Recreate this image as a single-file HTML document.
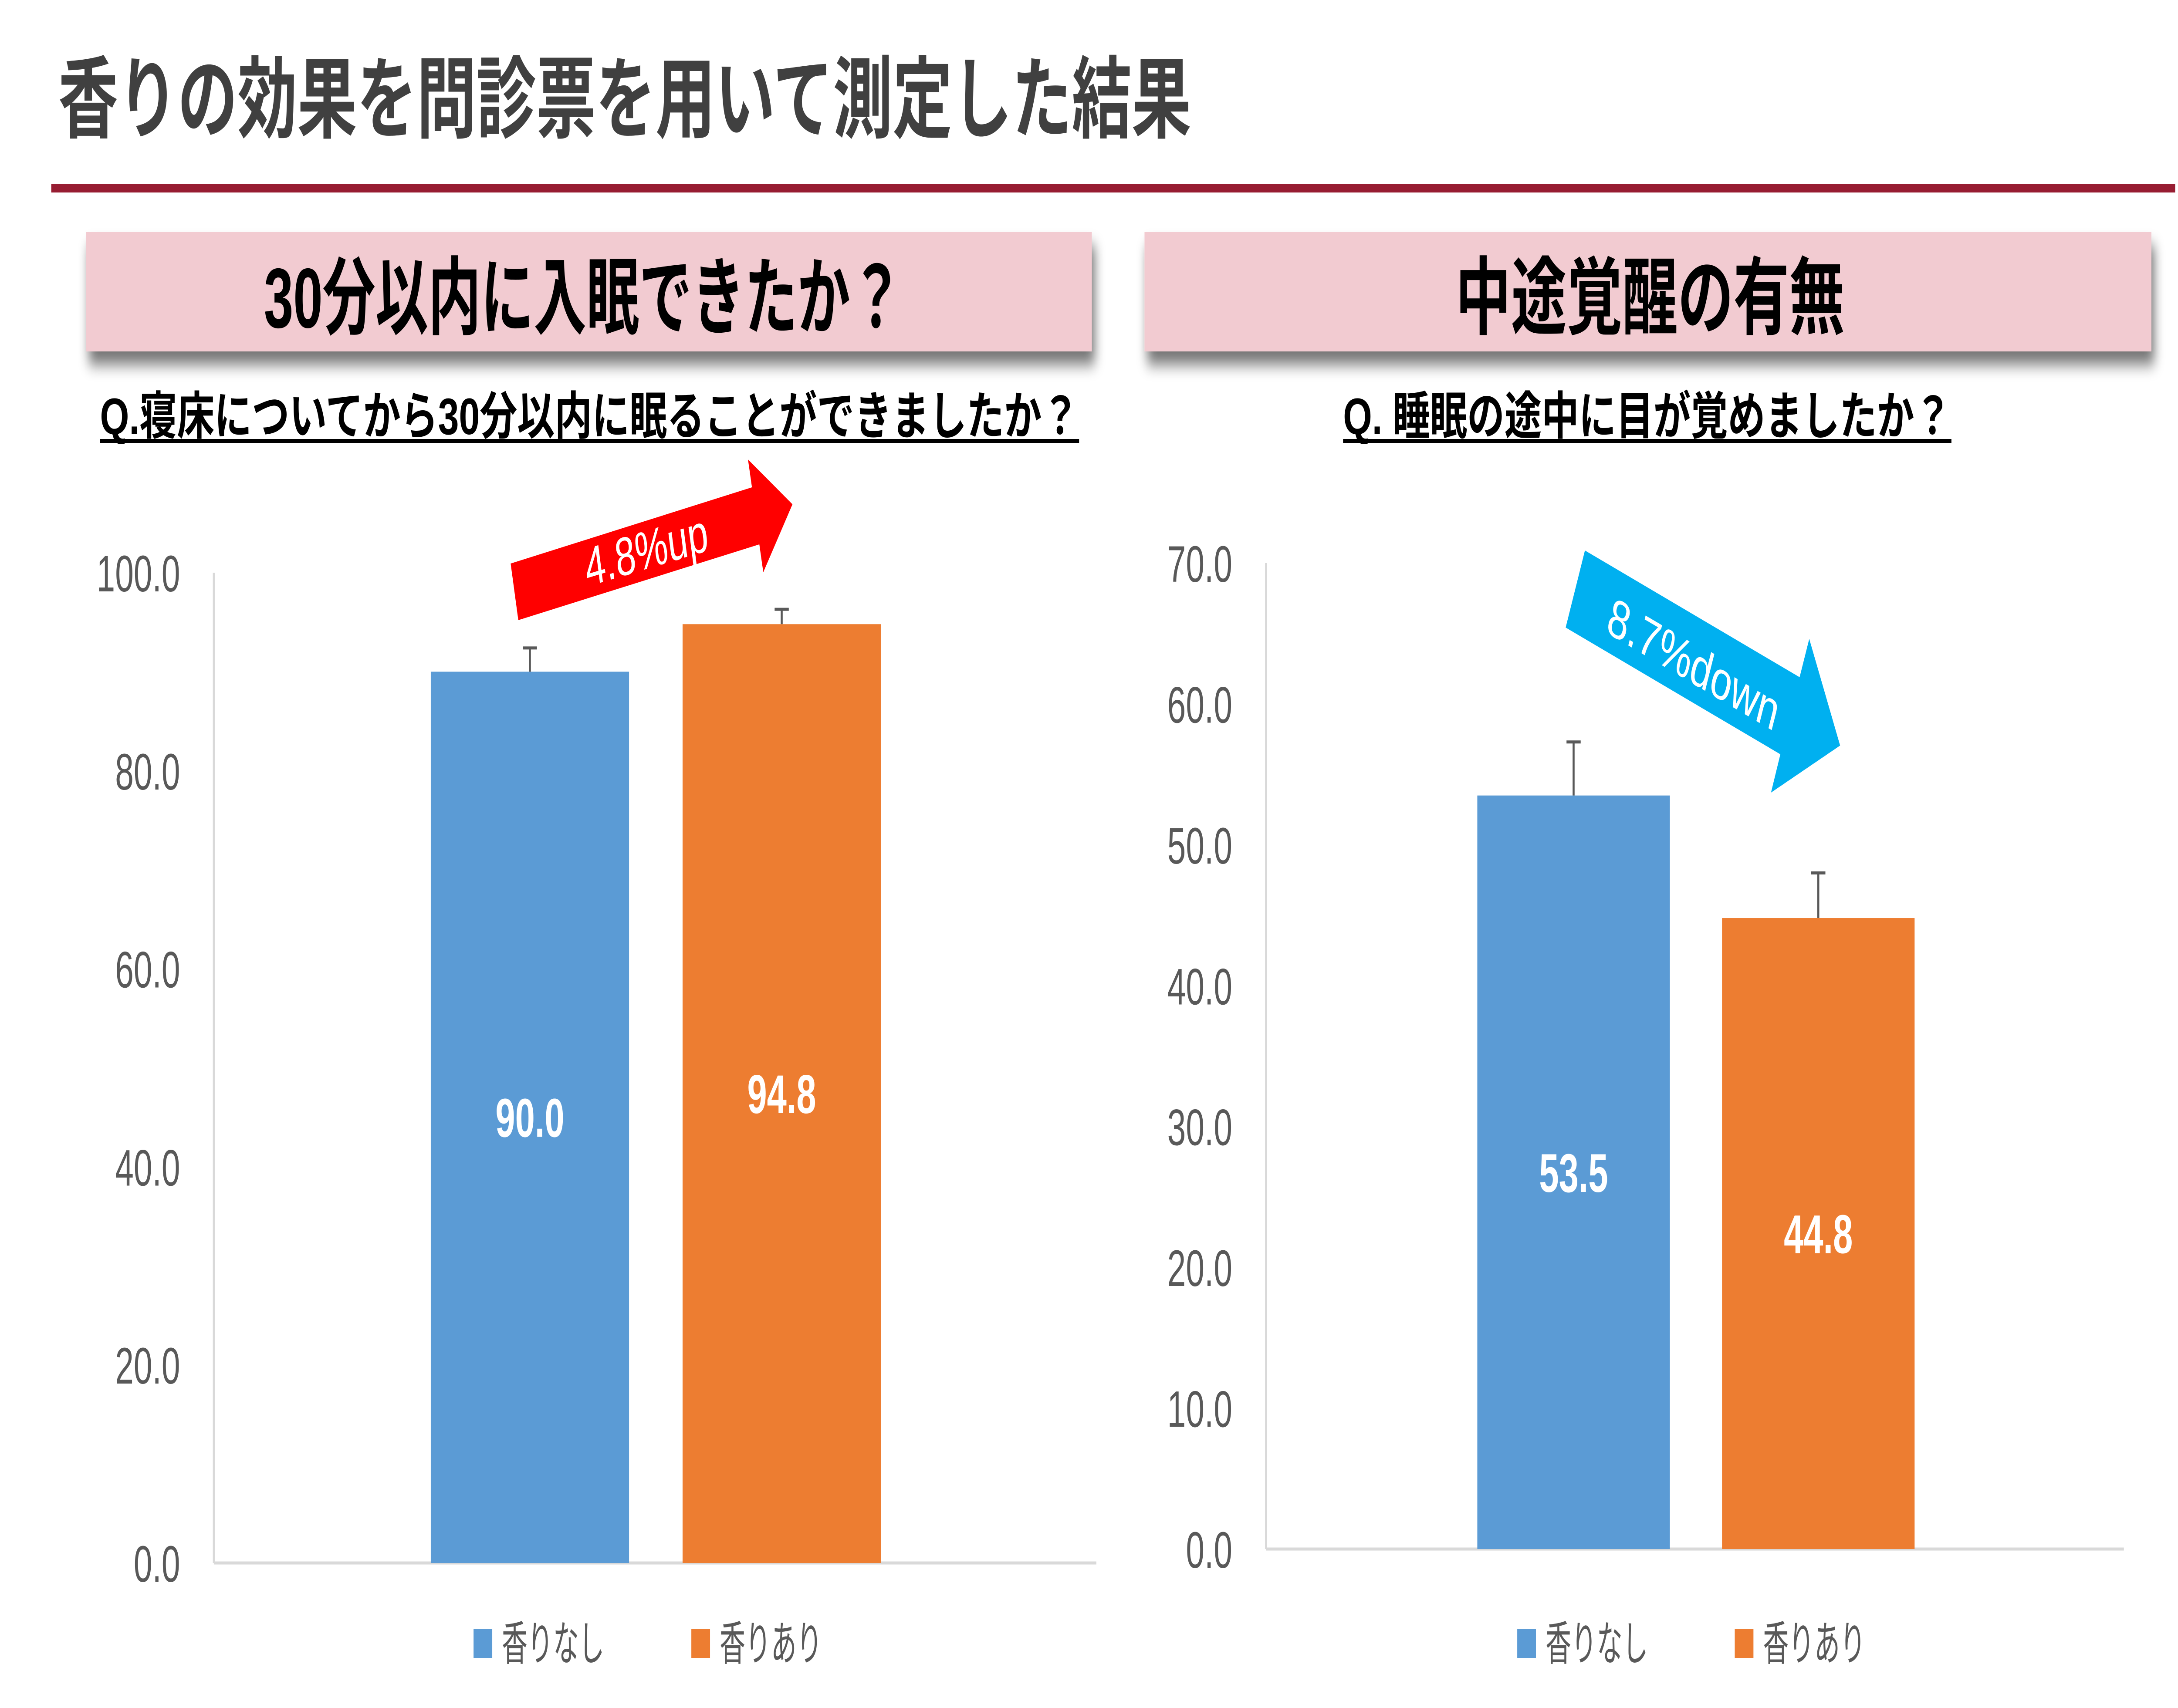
<!DOCTYPE html>
<html><head><meta charset="utf-8"><meta name="viewport" content="width=7690"><style>
html,body{margin:0;padding:0;background:#fff;width:7690px;height:3922px;overflow:hidden;}
svg{display:block;position:absolute;left:0;top:0;width:100vw;height:100vh;}
text{font-family:"Liberation Sans","Noto Sans CJK JP",sans-serif;}
</style></head><body>
<svg id="root" xmlns="http://www.w3.org/2000/svg" viewBox="0 0 7690 3922" preserveAspectRatio="none">
<defs>
<filter id="sh" x="-5%" y="-20%" width="110%" height="160%"><feGaussianBlur in="SourceAlpha" stdDeviation="18"/><feOffset dx="10" dy="30"/><feComponentTransfer><feFuncA type="linear" slope="0.55"/></feComponentTransfer><feMerge><feMergeNode/><feMergeNode in="SourceGraphic"/></feMerge></filter>
</defs>
<text x="206" y="300" font-size="205" font-weight="bold" fill="#404040" textLength="4000" lengthAdjust="spacingAndGlyphs">香りの効果を問診票を用いて測定した結果</text>
<rect x="181" y="423" width="7499" height="19" fill="#971d32"/>
<rect x="304" y="533" width="3551" height="274" fill="#f2cbd1" filter="url(#sh)"/>
<text x="932" y="752" font-size="195" font-weight="bold" fill="#000" textLength="2256" lengthAdjust="spacingAndGlyphs">30分以内に入眠できたか？</text>
<rect x="4041" y="533" width="3555" height="274" fill="#f2cbd1" filter="url(#sh)"/>
<text x="5139" y="752" font-size="195" font-weight="bold" fill="#000" textLength="1374" lengthAdjust="spacingAndGlyphs">中途覚醒の有無</text>
<text x="353" y="997" font-size="118" font-weight="bold" fill="#000" textLength="3457" lengthAdjust="spacingAndGlyphs">Q.寝床についてから30分以内に眠ることができましたか？</text>
<rect x="353" y="1008" width="3457" height="9" fill="#000"/>
<text x="4742" y="997" font-size="118" font-weight="bold" fill="#000" textLength="2148" lengthAdjust="spacingAndGlyphs">Q. 睡眠の途中に目が覚めましたか？</text>
<rect x="4742" y="1008" width="2148" height="9" fill="#000"/>
<g id="c1"></g><g id="c2"></g>
<polygon points="1803,1294 2655,1119 2641,1055 2798,1158 2695,1314 2681,1250 1830,1424" fill="#ff0000"/>
<text x="0" y="0" font-size="125" fill="#fff" text-anchor="middle" textLength="440" lengthAdjust="spacingAndGlyphs" transform="translate(2290,1305) rotate(-11)">4.8%up</text>
<polygon points="5596,1264 6354,1555 6388,1467 6497,1712 6253,1820 6286,1732 5528,1441" fill="#00b0f0"/>
<text x="0" y="0" font-size="125" fill="#fff" text-anchor="middle" textLength="640" lengthAdjust="spacingAndGlyphs" transform="translate(5965,1565) rotate(21)">8.7%down</text>
</svg>
<script>
// Left chart data
var leftCategories = ['香りなし', '香りあり'];
var leftValues = [90.0, 94.8];
var leftErrors = [2.4, 1.5];
var leftTicks = ['0.0', '20.0', '40.0', '60.0', '80.0', '100.0'];
var leftTickValues = [0, 20, 40, 60, 80, 100];
// Right chart data
var rightCategories = ['香りなし', '香りあり'];
var rightValues = [53.5, 44.8];
var rightErrors = [3.8, 3.2];
var rightTicks = ['0.0', '10.0', '20.0', '30.0', '40.0', '50.0', '60.0', '70.0'];
var rightTickValues = [0, 10, 20, 30, 40, 50, 60, 70];

var NS = 'http://www.w3.org/2000/svg';
var colors = ['#5b9bd5', '#ed7d31'];
function mk(parent, tag, attrs, txt) {
  var e = document.createElementNS(NS, tag);
  for (var k in attrs) e.setAttribute(k, attrs[k]);
  if (txt !== undefined) e.textContent = txt;
  parent.appendChild(e);
  return e;
}
function drawChart(g, cfg, cats, vals, errs, ticks, tickVals) {
  var yMax = tickVals[tickVals.length - 1];
  function y(v) { return cfg.y0 - (v / yMax) * (cfg.y0 - cfg.yTop); }
  var t, i;
  for (i = 0; i < ticks.length; i++) {
    t = mk(g, 'text', {x: cfg.labelRight, y: y(tickVals[i]) + 43, 'font-size': 118, fill: '#595959', 'text-anchor': 'end'}, ticks[i]);
    
    
  }
  var ax = mk(g, 'line', {x1: cfg.x0, y1: cfg.yTop, x2: cfg.x0, y2: cfg.y0, stroke: '#d9d9d9', 'stroke-width': 7});
  
  
  var bx = mk(g, 'line', {x1: cfg.x0, y1: cfg.y0, x2: cfg.x1, y2: cfg.y0, stroke: '#d9d9d9', 'stroke-width': 7});
  
  
  for (i = 0; i < vals.length; i++) {
    var left = cfg.barX[i], w = cfg.barW;
    var top = y(vals[i]);
    var r = mk(g, 'rect', {x: left, y: top, width: w, height: cfg.y0 - top, fill: colors[i]});
    
    
    var cx = left + w / 2, et = y(vals[i] + errs[i]);
    var el = mk(g, 'path', {d: 'M' + cx + ' ' + top + 'V' + et + 'M' + (cx - 25) + ' ' + et + 'H' + (cx + 25), stroke: '#595959', 'stroke-width': 7, fill: 'none'});
    
    
    var vl = mk(g, 'text', {x: cx, y: (top + cfg.y0) / 2 + 45, 'font-size': 125, 'font-weight': 'bold', fill: '#fff', 'text-anchor': 'middle'}, vals[i].toFixed(1));
    
    
    var sq = mk(g, 'rect', {x: cfg.legX[i], y: 3740, width: 66, height: 67, fill: colors[i]});
    
    
    var lt = mk(g, 'text', {x: cfg.legX[i] + 100, y: 3812, 'font-size': 108, fill: '#595959', textLength: 362, lengthAdjust: 'spacingAndGlyphs'}, cats[i]);
    
    
  }
}
drawChart(document.getElementById('c1'), {x0: 755, x1: 3871, y0: 3589, yTop: 1315, labelRight: 636, barX: [1521, 2410], barW: 700, legX: [1672, 2441]}, leftCategories, leftValues, leftErrors, leftTicks, leftTickValues);
drawChart(document.getElementById('c2'), {x0: 4470, x1: 7499, y0: 3557, yTop: 1293, labelRight: 4351, barX: [5216, 6080], barW: 680, legX: [5357, 6125]}, rightCategories, rightValues, rightErrors, rightTicks, rightTickValues);
document.getElementById('c1');
document.getElementById('c1');
document.getElementById('c2');
document.getElementById('c2');
</script>
</body></html>
